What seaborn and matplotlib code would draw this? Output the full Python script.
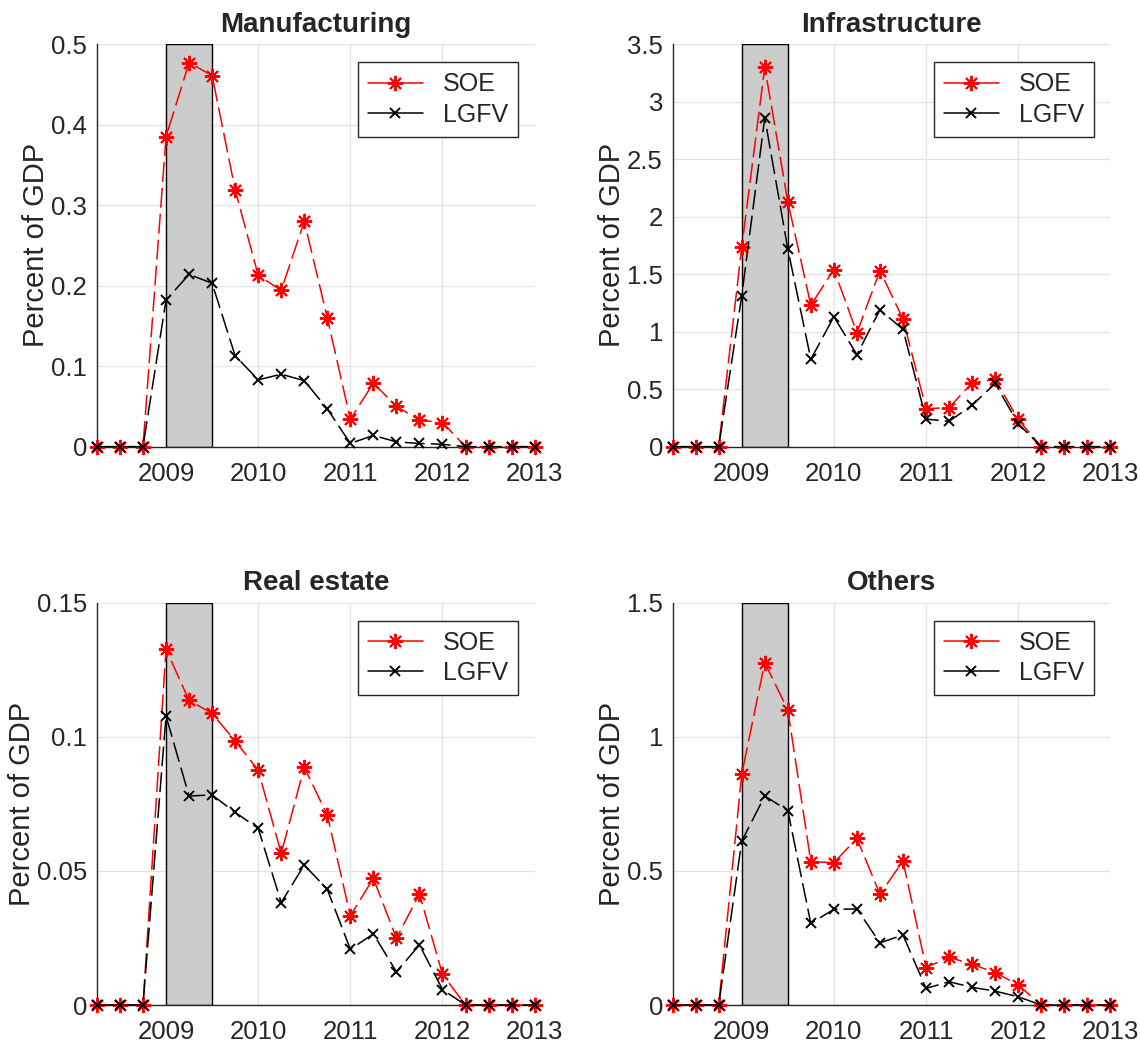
import numpy as np
import matplotlib
matplotlib.use('Agg')
import matplotlib.pyplot as plt
import seaborn as sns
from matplotlib.ticker import FuncFormatter

# ================= 数据 =================
quarters = [2008.25, 2008.5, 2008.75, 2009.0, 2009.25, 2009.5, 2009.75, 2010.0,
            2010.25, 2010.5, 2010.75, 2011.0, 2011.25, 2011.5, 2011.75, 2012.0,
            2012.25, 2012.5, 2012.75, 2013.0]

manu_soe = [0, 0, 0, 0.385, 0.477, 0.461, 0.319, 0.213, 0.194, 0.280, 0.160, 0.034,
            0.079, 0.050, 0.033, 0.030, 0, 0, 0, 0]
manu_lgfv = [0, 0, 0, 0.182, 0.214, 0.203, 0.113, 0.083, 0.090, 0.082, 0.047, 0.004,
             0.014, 0.006, 0.004, 0.003, 0, 0, 0, 0]

infra_soe = [0, 0, 0, 1.735, 3.30, 2.13, 1.23, 1.54, 0.99, 1.53, 1.11, 0.33,
             0.34, 0.555, 0.585, 0.237, 0, 0, 0, 0]
infra_lgfv = [0, 0, 0, 1.31, 2.86, 1.72, 0.76, 1.13, 0.80, 1.19, 1.02, 0.24,
              0.22, 0.36, 0.55, 0.20, 0, 0, 0, 0]

real_soe = [0, 0, 0, 0.1326, 0.1135, 0.1087, 0.0984, 0.0876, 0.0565, 0.0886, 0.0708, 0.0333,
            0.0472, 0.0249, 0.0414, 0.0114, 0, 0, 0, 0]
real_lgfv = [0, 0, 0, 0.1077, 0.0779, 0.0783, 0.0718, 0.0659, 0.0382, 0.0522, 0.0431, 0.0208,
             0.0265, 0.0124, 0.0224, 0.0058, 0, 0, 0, 0]

other_soe = [0, 0, 0, 0.86, 1.276, 1.10, 0.534, 0.531, 0.621, 0.413, 0.537, 0.140,
             0.178, 0.152, 0.121, 0.075, 0, 0, 0, 0]
other_lgfv = [0, 0, 0, 0.611, 0.779, 0.725, 0.304, 0.357, 0.358, 0.232, 0.261, 0.062,
              0.087, 0.066, 0.052, 0.031, 0, 0, 0, 0]

titles = ['Manufacturing', 'Infrastructure', 'Real estate', 'Others']
ymaxes = [0.5, 3.5, 0.15, 1.5]
ysteps = [0.1, 0.5, 0.05, 0.5]
xticks = [2009, 2010, 2011, 2012, 2013]
shade = (2009.0, 2009.5)

# ================= 样式 =================
sns.set_style('white')
plt.rcParams['font.family'] = ['Liberation Sans', 'DejaVu Sans']
AX_COL = '#262626'

fig = plt.figure(figsize=(11.4, 10.51), dpi=100)
positions = [
    [0.085, 0.575, 0.384, 0.383],
    [0.590, 0.575, 0.384, 0.383],
    [0.085, 0.0437, 0.384, 0.383],
    [0.590, 0.0437, 0.384, 0.383],
]
series = [(manu_soe, manu_lgfv), (infra_soe, infra_lgfv),
          (real_soe, real_lgfv), (other_soe, other_lgfv)]

DASH = (0, (13, 4))

for pos, title, ymax, ystep, (soe, lgfv) in zip(positions, titles, ymaxes, ysteps, series):
    ax = fig.add_axes(pos)
    ax.set_xlim(2008.25, 2013)
    ax.set_ylim(0, ymax)

    # 阴影区
    ax.axvspan(shade[0], shade[1], facecolor='#cccccc', edgecolor='black', lw=1.0, zorder=1.5)

    sns.lineplot(x=quarters, y=soe, ax=ax, color='red', linestyle=DASH, lw=1.1,
                 marker=(8, 2, 0), markersize=11, mec='red', mew=1.4, label='SOE',
                 errorbar=None, sort=False, zorder=3, clip_on=False)
    sns.lineplot(x=quarters, y=lgfv, ax=ax, color='black', linestyle=DASH, lw=1.1,
                 marker='x', markersize=7.5, mec='black', mew=1.4, label='LGFV',
                 errorbar=None, sort=False, zorder=3.5, clip_on=False)

    ax.set_xticks(xticks)
    ax.set_yticks(np.round(np.arange(0, ymax + ystep / 2, ystep), 4))
    ax.yaxis.set_major_formatter(FuncFormatter(lambda v, p: f'{v:g}'))
    ax.grid(True, color='#e3e3e3', lw=0.9, zorder=0)
    ax.set_axisbelow(True)

    for s in ['top', 'right']:
        ax.spines[s].set_visible(False)
    for s in ['left', 'bottom']:
        ax.spines[s].set_color(AX_COL)
        ax.spines[s].set_linewidth(1.0)
        ax.spines[s].set_zorder(2.5)

    ax.tick_params(axis='both', direction='in', length=5, width=0.9, color=AX_COL,
                   labelsize=18.5, labelcolor=AX_COL)
    ax.tick_params(axis='x', pad=11)
    ax.tick_params(axis='y', pad=7)

    ax.set_title(title, fontsize=20, fontweight='bold', pad=9)
    ax.set_ylabel('Percent of GDP', fontsize=21, color=AX_COL, labelpad=1)
    ax.set_xlabel('')

    leg = ax.legend(loc='upper right', bbox_to_anchor=(0.962, 0.955), borderaxespad=0,
                    fontsize=18, frameon=True, fancybox=False, framealpha=1,
                    edgecolor=AX_COL, handlelength=2.2, handletextpad=0.8,
                    labelspacing=0.25, borderpad=0.4)
    leg.get_frame().set_linewidth(1.0)
    for ln in leg.get_lines():
        ln.set_linestyle('-')

fig.savefig('out.png', dpi=100)
